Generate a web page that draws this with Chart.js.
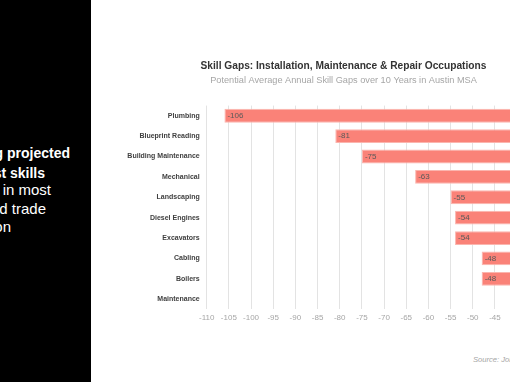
<!DOCTYPE html>
<html><head><meta charset="utf-8">
<script src="https://cdn.jsdelivr.net/npm/chart.js@4/dist/chart.umd.min.js"></script>
<style>
html,body{margin:0;padding:0;width:510px;height:382px;overflow:hidden;background:#fff;position:relative}
#panel{position:absolute;left:0;top:0;width:91px;height:382px;background:#000;overflow:hidden}
.ln{position:absolute;white-space:nowrap;color:#fff;font-family:'Liberation Sans',Arial,sans-serif;font-size:15px;line-height:18px}
.b{font-weight:bold;font-size:14px}
#wrap{position:absolute;left:110px;top:50px;width:467px;height:280px}
#src{position:absolute;left:473px;top:355px;font:italic 7.6px 'Liberation Sans',Arial,sans-serif;color:#a6a6a6;white-space:nowrap}
</style></head>
<body>
<div id="panel">
<div class="ln b" style="right:21px;top:144px">Plumbing projected</div>
<div class="ln b" style="right:46px;top:164px">largest skills</div>
<div class="ln" style="right:40px;top:181px">gap in most</div>
<div class="ln" style="right:45px;top:200px">skilled trade</div>
<div class="ln" style="right:80px;top:218px">occupation</div>
</div>
<div id="wrap"><canvas id="c"></canvas></div>
<div id="src">Source: JobsEQ</div>
<script>
const categories = ['Plumbing','Blueprint Reading','Building Maintenance','Mechanical','Landscaping','Diesel Engines','Excavators','Cabling','Boilers','Maintenance'];
const gapValues = [-106,-81,-75,-63,-55,-54,-54,-48,-48,null];
const xMin = -110, xMax = -26.5, xStep = 5;
const titleText = 'Skill Gaps: Installation, Maintenance & Repair Occupations';
const subtitleText = 'Potential Average Annual Skill Gaps over 10 Years in Austin MSA';

const valueLabels = {
  id:'valueLabels',
  afterDatasetsDraw(chart){
    const ctx = chart.ctx, meta = chart.getDatasetMeta(0);
    ctx.save();
    ctx.font = "8px 'Liberation Sans', Arial, sans-serif";
    ctx.fillStyle = '#595959';
    ctx.textBaseline = 'middle';
    ctx.textAlign = 'left';
    meta.data.forEach((bar,i)=>{
      const v = gapValues[i];
      if (v == null) return;
      ctx.fillText(String(v), bar.x + 3, bar.y);
    });
    ctx.restore();
  }
};

new Chart(document.getElementById('c'), {
  type:'bar',
  data:{labels:categories, datasets:[{data:gapValues, backgroundColor:'#FA8278', borderColor:'#FBB5AE', borderWidth:1, barPercentage:0.68, categoryPercentage:1}]},
  options:{
    indexAxis:'y', responsive:true, maintainAspectRatio:false, animation:false,
    layout:{padding:{left:0,right:0,top:0,bottom:3}},
    plugins:{
      legend:{display:false}, tooltip:{enabled:false},
      title:{display:true, text:titleText, color:'#333333', font:{family:"'Liberation Sans', Arial", size:10.2, weight:'bold', lineHeight:1.2}, padding:{top:9.6,bottom:0}},
      subtitle:{display:true, text:subtitleText, color:'#a6a6a6', font:{family:"'Liberation Sans', Arial", size:9.2, lineHeight:1.2}, padding:{top:3.3,bottom:19.4}}
    },
    scales:{
      x:{min:xMin, max:xMax,
         afterBuildTicks(s){ s.ticks = s.ticks.filter(t => t.value % xStep === 0); },
         ticks:{stepSize:xStep, color:'#a6a6a6', font:{size:8, family:"'Liberation Sans', Arial"}, padding:4, autoSkip:false, maxRotation:0},
         grid:{color:'#e3e3e3', drawTicks:false}, border:{display:false}},
      y:{grid:{display:false, drawTicks:false}, border:{display:false},
         ticks:{color:'#404040', font:{family:"'Liberation Sans', Arial", size:7, weight:'bold'}, padding:7},
         afterFit(s){ s.width = 96.7; }}
    }
  },
  plugins:[valueLabels]
});
</script>
</body></html>
